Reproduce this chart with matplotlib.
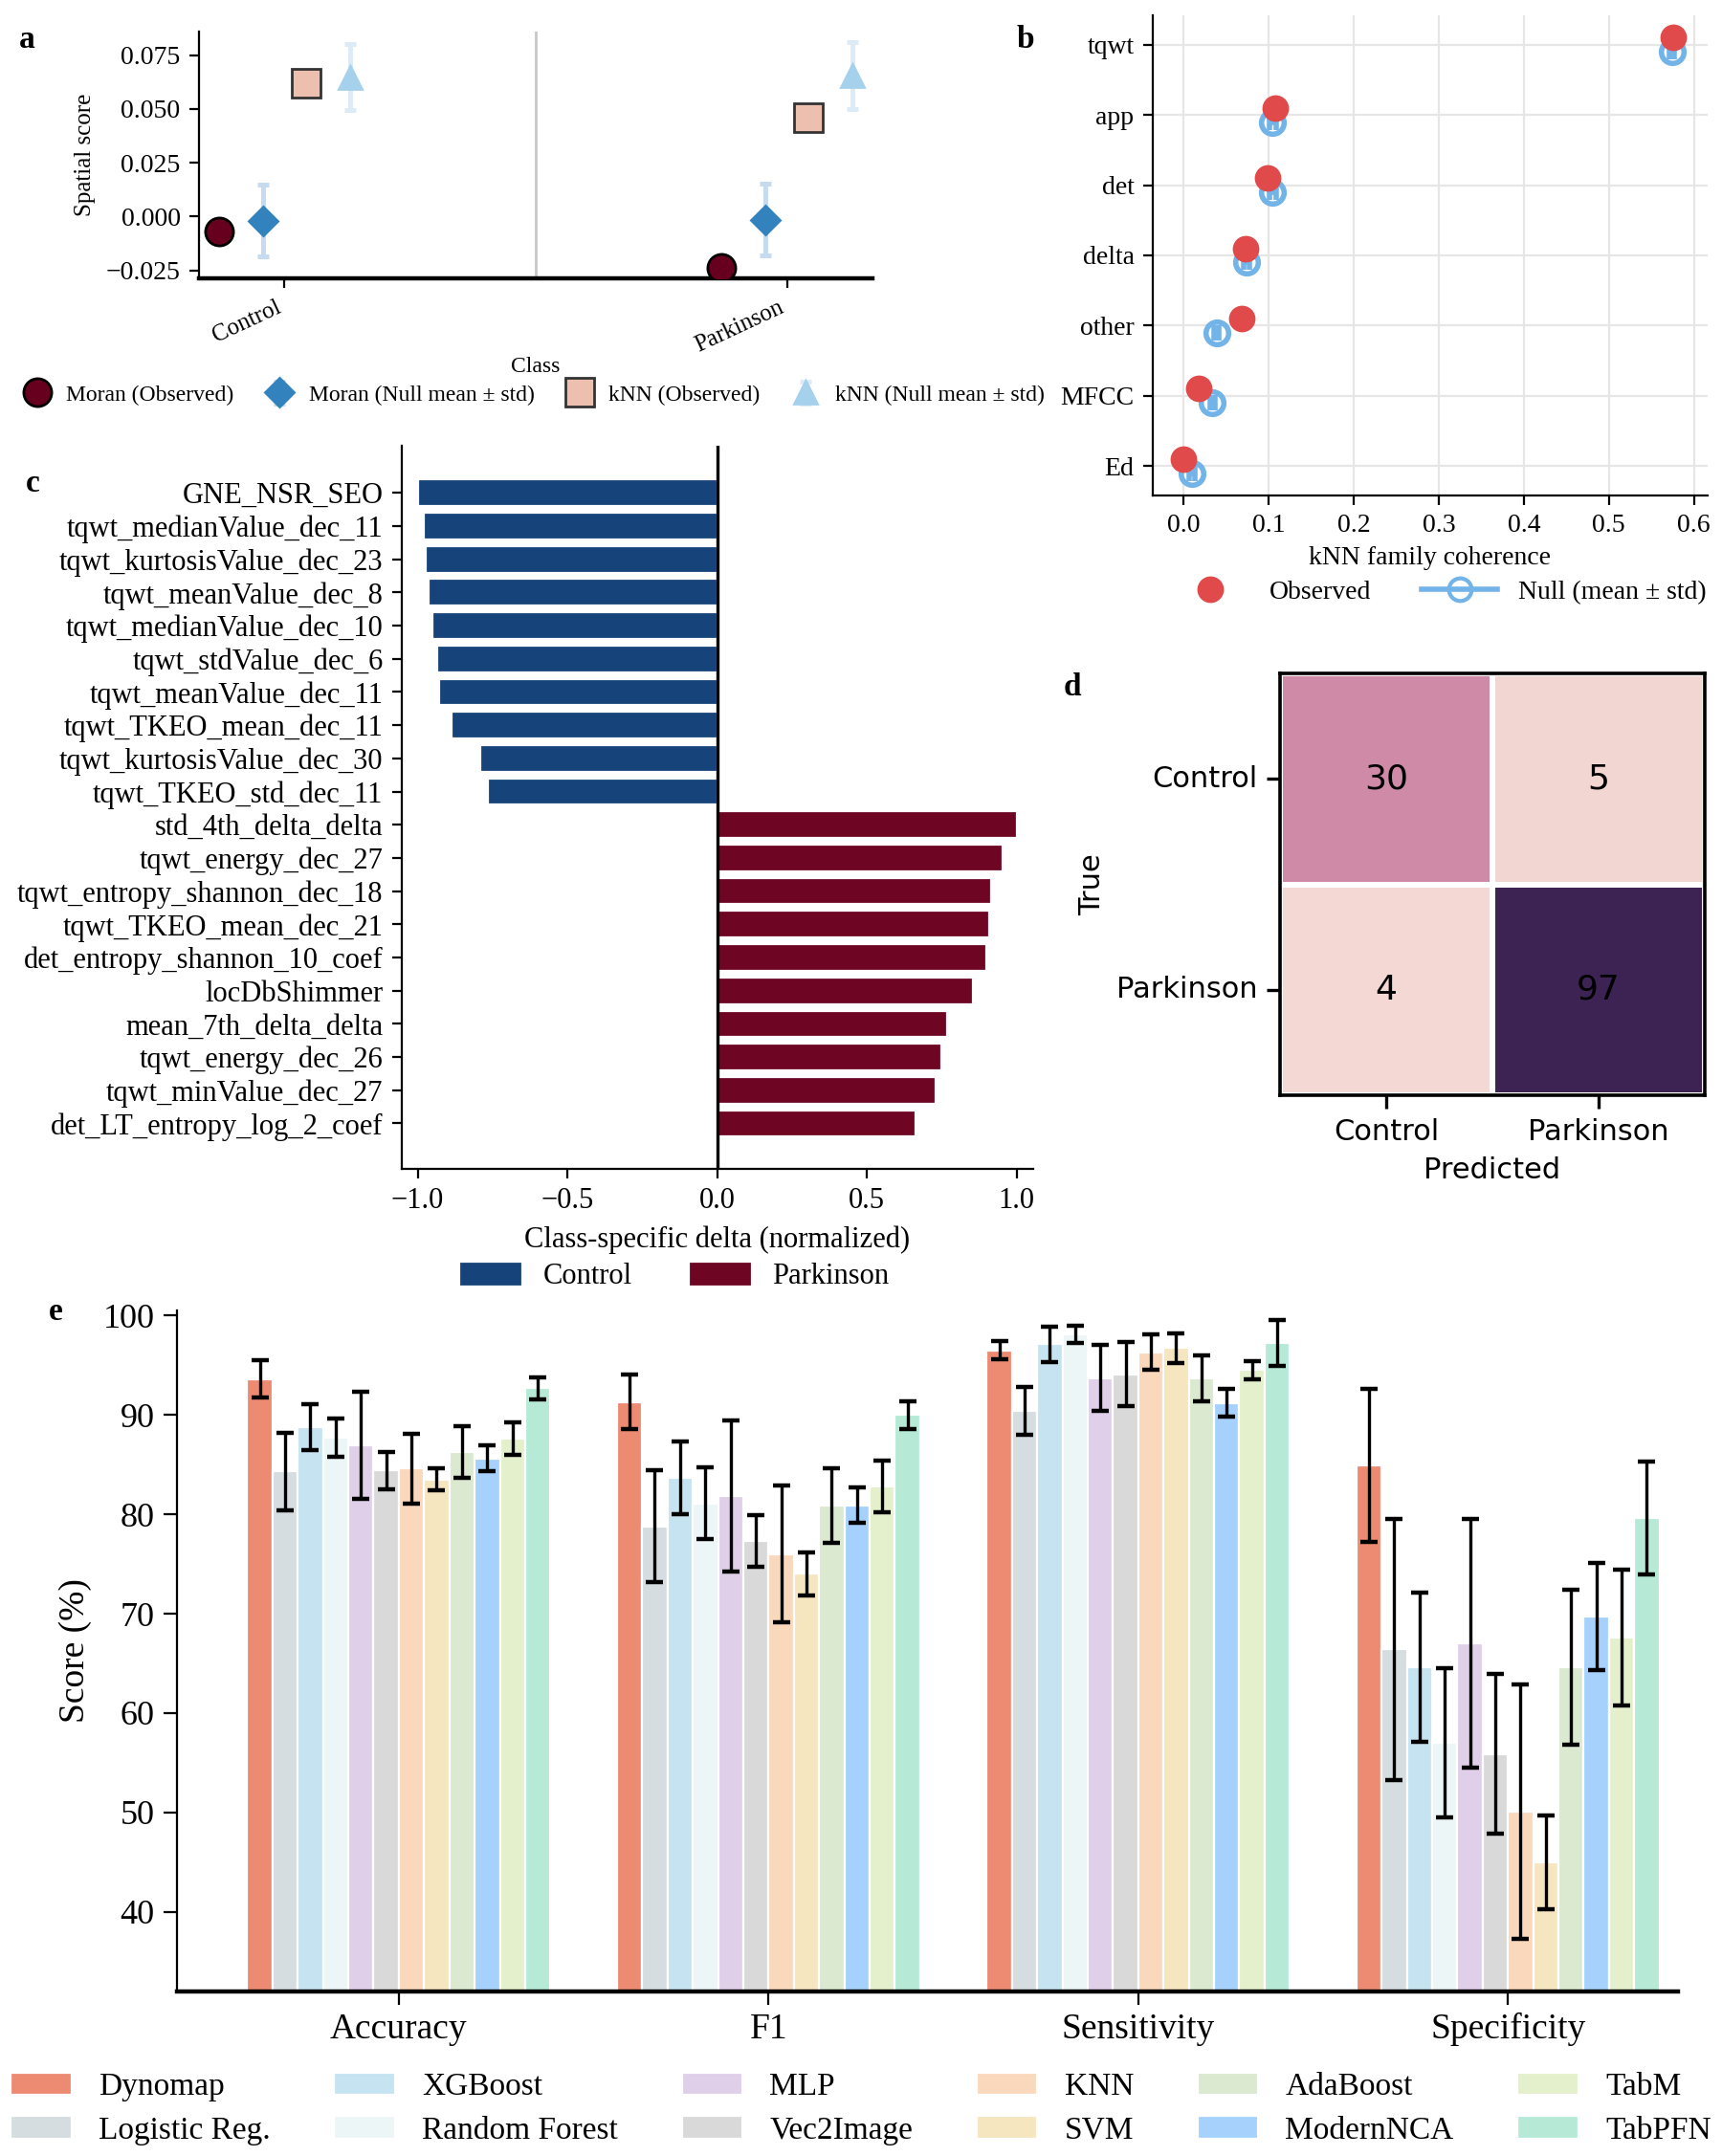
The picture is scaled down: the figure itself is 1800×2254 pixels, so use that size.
import numpy as np
import matplotlib
matplotlib.use('Agg')
import matplotlib.pyplot as plt
import seaborn as sns
from matplotlib.lines import Line2D
from matplotlib.patches import Patch
from matplotlib.colors import LinearSegmentedColormap

plt.rcParams['font.family'] = 'serif'
plt.rcParams['font.serif'] = ['Liberation Serif', 'DejaVu Serif']
plt.rcParams['axes.unicode_minus'] = True

# ---------------- data ----------------
# a: spatial scores
classes = ['Control', 'Parkinson']
moran_obs = [-0.0071, -0.0238]
moran_null = [-0.0019, -0.0015]
moran_null_sd = [0.0166, 0.0166]
knn_obs = [0.0620, 0.0460]
knn_null = [0.0648, 0.0654]
knn_null_sd = [0.0155, 0.0155]

# b: kNN family coherence
families = ['tqwt', 'app', 'det', 'delta', 'other', 'MFCC', 'Ed']
fam_obs = [0.576, 0.108, 0.099, 0.073, 0.068, 0.018, 0.000]
fam_null = [0.574, 0.105, 0.105, 0.074, 0.039, 0.034, 0.010]
fam_null_sd = [0.003, 0.004, 0.004, 0.003, 0.003, 0.003, 0.003]

# c: class-specific deltas
features = ['GNE_NSR_SEO', 'tqwt_medianValue_dec_11', 'tqwt_kurtosisValue_dec_23',
            'tqwt_meanValue_dec_8', 'tqwt_medianValue_dec_10', 'tqwt_stdValue_dec_6',
            'tqwt_meanValue_dec_11', 'tqwt_TKEO_mean_dec_11', 'tqwt_kurtosisValue_dec_30',
            'tqwt_TKEO_std_dec_11', 'std_4th_delta_delta', 'tqwt_energy_dec_27',
            'tqwt_entropy_shannon_dec_18', 'tqwt_TKEO_mean_dec_21',
            'det_entropy_shannon_10_coef', 'locDbShimmer', 'mean_7th_delta_delta',
            'tqwt_energy_dec_26', 'tqwt_minValue_dec_27', 'det_LT_entropy_log_2_coef']
deltas = [-1.0, -0.981, -0.972, -0.963, -0.952, -0.934, -0.929, -0.886, -0.792, -0.765,
          1.0, 0.954, 0.913, 0.909, 0.900, 0.853, 0.767, 0.747, 0.729, 0.663]

# d: confusion matrix
cm_labels = ['Control', 'Parkinson']
cm = np.array([[30, 5], [4, 97]])

# e: model comparison
metrics = ['Accuracy', 'F1', 'Sensitivity', 'Specificity']
models = ['Dynomap', 'Logistic Reg.', 'XGBoost', 'Random Forest', 'MLP', 'Vec2Image',
          'KNN', 'SVM', 'AdaBoost', 'ModernNCA', 'TabM', 'TabPFN']
acc = [93.6, 84.3, 88.8, 87.7, 86.9, 84.4, 84.6, 83.5, 86.3, 85.6, 87.6, 92.7]
acc_sd = [1.9, 3.9, 2.3, 1.9, 5.4, 1.85, 3.5, 1.1, 2.6, 1.3, 1.6, 1.1]
f1 = [91.3, 78.8, 83.7, 81.1, 81.8, 77.3, 76.0, 74.0, 80.9, 80.9, 82.8, 90.0]
f1_sd = [2.75, 5.6, 3.65, 3.6, 7.6, 2.6, 6.9, 2.2, 3.75, 1.8, 2.6, 1.4]
sens = [96.5, 90.4, 97.1, 98.1, 93.7, 94.1, 96.3, 96.7, 93.7, 91.2, 94.5, 97.2]
sens_sd = [0.9, 2.4, 1.75, 0.9, 3.3, 3.25, 1.8, 1.5, 2.3, 1.4, 0.9, 2.3]
spec = [84.9, 66.4, 64.6, 57.0, 67.0, 55.9, 50.1, 45.0, 64.6, 69.7, 67.6, 79.6]
spec_sd = [7.7, 13.1, 7.5, 7.5, 12.5, 8.0, 12.8, 4.7, 7.8, 5.4, 6.8, 5.7]
model_colors = ['#EC8A72', '#D5DDE1', '#C5E3F0', '#ECF6F7', '#DFCFE8', '#D9D9D9',
                '#F9D8BC', '#F6E6C0', '#DAE9CF', '#A5D1FC', '#E3F0CB', '#B6EAD6']

fig = plt.figure(figsize=(9, 11.27), dpi=200)

def frac(x0, y0, x1, y1):
    W, H = 1800., 2254.
    return [x0 / W, 1 - y1 / H, (x1 - x0) / W, (y1 - y0) / H]

# ---------------- panel a ----------------
ax = fig.add_axes(frac(208, 33, 912, 291))
xc = np.arange(len(classes))
ax.axvline(0.5, color='#C8C8C8', lw=1.0, zorder=0)
h1, = ax.plot(xc - 0.13, moran_obs, 'o', ms=10.5, color='#67001F', mec='black', mew=1.0,
              ls='none', zorder=3)
h2 = ax.errorbar(xc - 0.043, moran_null, yerr=moran_null_sd, fmt='D', ms=7.5, color='#3182BD',
                 ecolor='#C6DBEF', elinewidth=1.8, capsize=2, capthick=1.8, zorder=3)
h3, = ax.plot(xc + 0.043, knn_obs, 's', ms=10.5, color='#EDBFAE', mec='#333333', mew=1.0,
              ls='none', zorder=3)
h4 = ax.errorbar(xc + 0.13, knn_null, yerr=knn_null_sd, fmt='^', ms=8.5, color='#A6D1EC',
                 ecolor='#DCEBF6', elinewidth=1.8, capsize=2, capthick=1.8, zorder=3)
ax.set_xlim(-0.17, 1.17)
ax.set_ylim(-0.0287, 0.0859)
yt = [-0.025, 0.0, 0.025, 0.05, 0.075]
ax.set_yticks(yt)
ax.set_yticklabels([f'{v:.3f}'.replace('-', '\u2212') for v in yt])
ax.set_xticks(xc)
ax.set_xticklabels(classes, rotation=25, ha='right', fontsize=9)
ax.tick_params(axis='y', labelsize=10)
ax.set_ylabel('Spatial score', fontsize=9)
ax.set_xlabel('Class', fontsize=8.5, labelpad=0)
for s in ['top', 'right']:
    ax.spines[s].set_visible(False)
ax.spines['bottom'].set_linewidth(1.6)
fig.legend([h1, h2, h3, h4],
           ['Moran (Observed)', 'Moran (Null mean ± std)', 'kNN (Observed)', 'kNN (Null mean ± std)'],
           loc='upper center', bbox_to_anchor=(0.310, 0.831), ncol=4, frameon=False,
           fontsize=8.5, handlelength=1.2, handletextpad=0.7, columnspacing=1.4)

# ---------------- panel b ----------------
ax = fig.add_axes(frac(1205, 16, 1785, 518))
yf = np.arange(len(families))[::-1]
ax.grid(True, color='#E6E6E6', lw=0.8, zorder=0)
ax.set_axisbelow(True)
ax.plot(fam_obs, yf + 0.1, 'o', ms=9, color='#E04A4A', ls='none', zorder=4)
ax.errorbar(fam_null, yf - 0.1, xerr=fam_null_sd, fmt='o', ms=8.5, mfc='none',
            mec='#72B3E8', mew=2, ecolor='#72B3E8', elinewidth=2, capsize=3,
            capthick=2, zorder=3)
ax.set_yticks(yf)
ax.set_yticklabels(families, fontsize=10)
ax.set_xticks([0.0, 0.1, 0.2, 0.3, 0.4, 0.5, 0.6])
ax.tick_params(axis='x', labelsize=10)
ax.set_xlim(-0.036, 0.616)
ax.set_ylim(-0.42, 6.42)
ax.set_xlabel('kNN family coherence', fontsize=10, labelpad=3)
for s in ['top', 'right']:
    ax.spines[s].set_visible(False)
hb = [Line2D([], [], marker='o', ls='none', ms=9, color='#E04A4A'),
      Line2D([], [], marker='o', ms=8.5, mfc='none', mec='#72B3E8', mew=1.5,
             color='#72B3E8', lw=2)]
fig.legend(hb, ['Observed', 'Null (mean ± std)'], loc='upper center',
           bbox_to_anchor=(0.836, 0.742), ncol=2, frameon=False, fontsize=10,
           handlelength=2.85, columnspacing=1.9, handletextpad=0.8)

# ---------------- panel c ----------------
ax = fig.add_axes(frac(420, 466, 1080, 1222))
yc = np.arange(len(features))
cols = ['#15437A' if d < 0 else '#6D0523' for d in deltas]
ax.barh(yc, deltas, height=0.8, color=cols, edgecolor='white', lw=0.8)
ax.axvline(0, color='black', lw=1.2)
ax.set_yticks(yc)
ax.set_yticklabels(features, fontsize=11)
ax.set_ylim(len(features) - 1 + 1.37, -1.42)
ax.set_xlim(-1.053, 1.055)
ax.set_xticks([-1.0, -0.5, 0.0, 0.5, 1.0])
ax.set_xticklabels(['\u22121.0', '\u22120.5', '0.0', '0.5', '1.0'])
ax.tick_params(axis='x', labelsize=11)
ax.set_xlabel('Class-specific delta (normalized)', fontsize=11, labelpad=4)
for s in ['top', 'right']:
    ax.spines[s].set_visible(False)
hc = [Patch(color='#15437A'), Patch(color='#6D0523')]
fig.legend(hc, ['Control', 'Parkinson'], loc='upper center', bbox_to_anchor=(0.392, 0.4265),
           ncol=2, frameon=False, fontsize=11, handlelength=2.0, columnspacing=2.0,
           handletextpad=0.8)

# ---------------- panel d ----------------
ax = fig.add_axes(frac(1338, 704, 1782, 1145))
cm_cmap = LinearSegmentedColormap.from_list(
    'cm', [(0.0, '#F3D8D3'), (0.28, '#CF8AA7'), (1.0, '#3C2353')])
sns.heatmap(cm, ax=ax, cmap=cm_cmap, annot=True, fmt='d', cbar=False,
            linewidths=1.5, linecolor='white',
            annot_kws={'fontsize': 13, 'color': 'black', 'family': 'DejaVu Sans'})
for s in ax.spines.values():
    s.set_visible(True)
    s.set_linewidth(1.3)
    s.set_color('black')
ax.set_xticklabels(cm_labels, fontsize=11, family='DejaVu Sans')
ax.set_yticklabels(cm_labels, fontsize=11, family='DejaVu Sans', rotation=0)
ax.tick_params(length=5, width=1.2)
ax.set_xlabel('Predicted', fontsize=11, family='DejaVu Sans')
ax.set_ylabel('True', fontsize=11, family='DejaVu Sans')

# ---------------- panel e ----------------
ax = fig.add_axes(frac(185, 1370, 1754, 2082))
scores = [acc, f1, sens, spec]
sds = [acc_sd, f1_sd, sens_sd, spec_sd]
xg = np.arange(len(metrics))
bw = 0.82 / len(models)
for i, m in enumerate(models):
    xs = xg - 0.41 + bw * (i + 0.5)
    vals = [s[i] for s in scores]
    errs = [s[i] for s in sds]
    ax.bar(xs, vals, width=bw, color=model_colors[i], edgecolor='white', lw=0.8, label=m)
    ax.errorbar(xs, vals, yerr=errs, fmt='none', ecolor='black', elinewidth=1.2,
                capsize=3.3, capthick=1.6, zorder=4)
ax.set_xlim(-0.6, 3.46)
ax.set_ylim(32, 100.5)
ax.set_yticks([40, 50, 60, 70, 80, 90, 100])
ax.set_xticks(xg)
ax.set_xticklabels(metrics, fontsize=13.5)
ax.tick_params(axis='x', pad=3, length=5)
ax.tick_params(axis='y', labelsize=13, length=5)
ax.set_ylabel('Score (%)', fontsize=13.5)
for s in ['top', 'right']:
    ax.spines[s].set_visible(False)
ax.spines['bottom'].set_linewidth(1.6)
fig.legend(*ax.get_legend_handles_labels(), loc='upper center', bbox_to_anchor=(0.5, 0.052),
           ncol=6, frameon=False, fontsize=12, handlelength=1.9, columnspacing=2.0,
           handletextpad=0.85, labelspacing=0.45)

# panel letters
for lab, x, y in [('a', 28, 42), ('b', 1072, 42), ('c', 34, 506), ('d', 1121, 719), ('e', 58, 1372)]:
    fig.text(x / 1800, 1 - y / 2254, lab, fontsize=12, fontweight='bold', ha='center', va='center')

fig.savefig('out.png', dpi=200)
